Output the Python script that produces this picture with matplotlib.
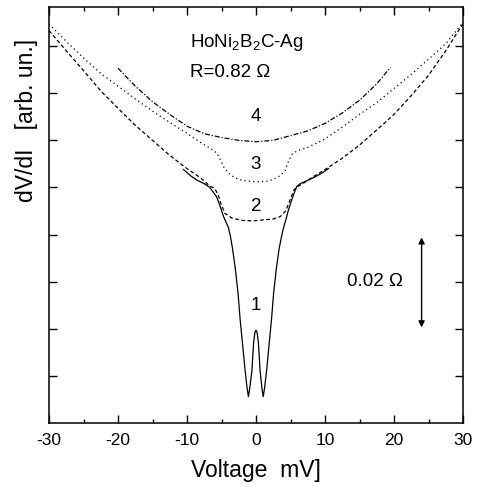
import numpy as np
import matplotlib.pyplot as plt

plt.rcParams['font.family'] = ['Liberation Sans', 'DejaVu Sans']
plt.rcParams['axes.unicode_minus'] = False
plt.rcParams['mathtext.fontset'] = 'custom'
plt.rcParams['mathtext.rm'] = 'Liberation Sans'
plt.rcParams['mathtext.it'] = 'Liberation Sans:italic'

# curve 1 (solid)
v1 = [-10.5, -9.5, -8.5, -7.5, -6.7, -6.2, -5.7, -5.2, -4.7, -4.3, -4.0, -3.7,
      -3.4, -3.0, -2.6, -2.3, -2.0, -1.6, -1.3, -1.1, -0.9, -0.6, -0.35, -0.15,
      0.0, 0.15, 0.35, 0.6, 0.85, 1.05, 1.25, 1.55, 1.95, 2.25, 2.55, 2.95,
      3.35, 3.7, 4.0, 4.3, 4.7, 5.2, 5.9, 6.4, 7.5, 8.5, 9.5, 10.5]
r1 = [5.38, 5.25, 5.15, 5.08, 5.0, 4.9, 4.8, 4.6, 4.38, 4.25, 4.15, 3.96,
      3.7, 3.28, 2.75, 2.2, 1.75, 1.15, 0.75, 0.56, 0.75, 1.1, 1.7, 1.93,
      1.97, 1.93, 1.7, 1.1, 0.75, 0.56, 0.75, 1.13, 1.75, 2.2, 2.75, 3.28,
      3.7, 3.96, 4.15, 4.3, 4.52, 4.75, 5.02, 5.08, 5.15, 5.22, 5.3, 5.4]

# curve 2 (dashed)
v2 = [-30, -27.5, -25, -22.5, -20, -17.5, -15, -12.5, -10, -8, -6.7, -6, -5.5,
      -5, -4.5, -3.5, -2, -0.5, 1, 2.5, 3.5, 4.3, 4.9, 5.5, 6.3, 7, 8, 10,
      12.5, 15, 17.5, 20, 22.5, 25, 27.5, 30]
r2 = [8.33, 7.9, 7.48, 7.05, 6.68, 6.32, 6.0, 5.68, 5.40, 5.2, 5.03, 4.98, 4.85,
      4.62, 4.45, 4.35, 4.3, 4.29, 4.31, 4.33, 4.38, 4.5, 4.72, 4.95, 5.04, 5.1, 5.2, 5.38,
      5.62, 5.9, 6.22, 6.55, 6.95, 7.38, 7.9, 8.48]

# curve 3 (dotted)
v3 = [-30, -27.5, -25, -22.5, -20, -17.5, -15, -12.5, -10, -8, -6.5, -5.7, -5.2,
      -4.7, -4, -3, -2, 0, 1.5, 2.5, 3.5, 4.2, 4.7, 5.2, 6, 7.5, 10, 12.5, 15,
      17.5, 20, 22.5, 25, 27.5, 30]
r3 = [8.47, 8.1, 7.75, 7.42, 7.15, 6.88, 6.62, 6.38, 6.15, 5.95, 5.82, 5.73, 5.6,
      5.44, 5.3, 5.2, 5.15, 5.12, 5.13, 5.17, 5.25, 5.35, 5.55, 5.7, 5.78, 5.85,
      6.03, 6.28, 6.55, 6.8, 7.1, 7.4, 7.72, 8.05, 8.5]

# curve 4 (dash-dot)
v4 = [-20, -17.5, -15, -12.5, -10, -7.5, -5, -2.5, 0, 2.5, 5, 7.5, 10, 12.5,
      15, 17.5, 19.5]
r4 = [7.53, 7.15, 6.82, 6.55, 6.30, 6.14, 6.06, 6.0, 5.97, 6.0, 6.1, 6.2, 6.36,
      6.58, 6.85, 7.2, 7.55]

xticks = [-30, -20, -10, 0, 10, 20, 30]

fig = plt.figure(figsize=(4.81, 4.87), dpi=100)
ax = fig.add_axes([49/481, 64/487, 414/481, 416/487])

lw = 0.9
ax.plot(v1, r1, color='black', lw=lw, ls='-')
ax.plot(v2, r2, color='black', lw=lw, ls=(0, (3, 2)))
ax.plot(v3, r3, color='black', lw=lw, ls=(0, (1, 2.5)))
ax.plot(v4, r4, color='black', lw=lw, ls=(0, (4, 1.5, 1, 1.5)))

ax.set_xlim(-30, 30)
ax.set_ylim(0, 8.83)
ax.set_xticks(xticks)
ax.set_xticks(np.arange(-25, 30, 10), minor=True)
ax.set_yticks(np.arange(1, 9))
ax.set_yticklabels([])
ax.tick_params(which='both', direction='in', top=True, right=True)
ax.tick_params(which='major', length=6, width=1, labelsize=12.5, pad=7)
ax.tick_params(which='minor', length=3, width=1)
for s in ax.spines.values():
    s.set_linewidth(1.1)

ax.text(-9.6, 8.07, 'HoNi$_2$B$_2$C-Ag', fontsize=13.5, va='center', ha='left')
ax.text(-9.6, 7.45, 'R=0.82 Ω', fontsize=13.5, va='center', ha='left')
for lab, yy in [('4', 6.5), ('3', 5.48), ('2', 4.59), ('1', 2.5)]:
    ax.text(0, yy, lab, fontsize=13.5, ha='center', va='center')

ax.annotate('', xy=(24, 4.0), xytext=(24, 1.97),
            arrowprops=dict(arrowstyle='<|-|>', color='black', lw=1,
                            mutation_scale=9))
ax.text(13.2, 3.0, '0.02 Ω', fontsize=13.5, ha='left', va='center')

fig.text(256/481, 1 - 471/487, 'Voltage  mV]', fontsize=16.5, ha='center', va='center')
fig.text(27/481, 1 - 120/487, 'dV/dI   [arb. un.]', fontsize=16.5, ha='center',
         va='center', rotation=90)

fig.savefig('out.png', dpi=100)
